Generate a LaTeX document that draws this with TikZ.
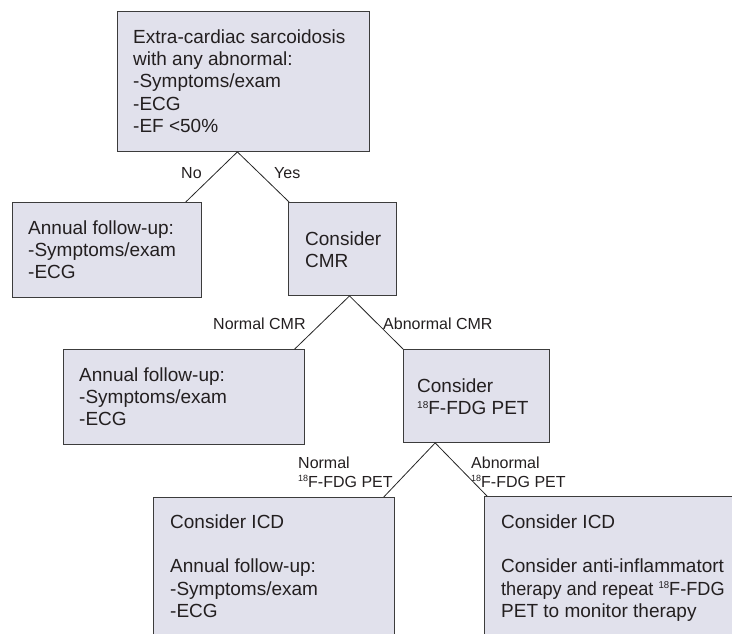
\documentclass[tikz,border=0pt]{standalone}
\usepackage{fontspec}
\usepackage{graphicx}
\setmainfont{Liberation Sans}
\usetikzlibrary{calc}
\definecolor{boxfill}{RGB}{225,225,236}
\definecolor{boxline}{RGB}{60,60,60}
\definecolor{textc}{RGB}{35,31,32}
\newcommand\isot[2]{\raisebox{#2}{\fontsize{#1}{#1}\selectfont 18}}
\newcommand\lns[1]{\begin{tabular}[t]{@{}l@{}}#1\end{tabular}}
\begin{document}
\begin{tikzpicture}[x=1pt,y=-1pt,
  box/.style={draw=boxline,fill=boxfill,line width=0.9pt,inner sep=0pt,anchor=north west},
  txt/.style={anchor=base west,inner sep=0pt,text=textc,font=\fontsize{19}{22.4}\selectfont},
  lbl/.style={anchor=base west,inner sep=0pt,text=textc,font=\fontsize{16}{19}\selectfont},
  conn/.style={draw=black!85,line width=0.8pt}]
\useasboundingbox (0,0) rectangle (732,633);
% boxes
\node[box,minimum width=252pt,minimum height=140pt] (b1) at (117,11) {};
\node[box,minimum width=189pt,minimum height=95pt] (b2) at (12,202) {};
\node[box,minimum width=108pt,minimum height=93pt] (b3) at (288,202) {};
\node[box,minimum width=241pt,minimum height=95pt] (b4) at (63,349) {};
\node[box,minimum width=146pt,minimum height=93pt] (b5) at (403,349) {};
\node[box,minimum width=241pt,minimum height=200pt] (b6) at (153,497) {};
\node[box,minimum width=280pt,minimum height=200pt] (b7) at (484,496) {};
% texts
\node[txt] (t1) at (133,43) {\lns{Extra-cardiac sarcoidosis\\with any abnormal:\\-Symptoms/exam\\-ECG\\-EF {<}50\%}};
\node[txt] (t2) at (28,234) {\lns{Annual follow-up:\\-Symptoms/exam\\-ECG}};
\node[txt] (t3) at (305,245) {\lns{Consider\\CMR}};
\node[txt] (t4) at (79,381) {\lns{Annual follow-up:\\-Symptoms/exam\\-ECG}};
\node[txt] (t5) at (417,392) {\lns{Consider\\\isot{10}{6.3pt}F-FDG PET}};
\node[txt] (t6) at (170,528) {\lns{Consider ICD\\ \\Annual follow-up:\\-Symptoms/exam\\-ECG}};
\node[txt] (t7) at (501,528) {\lns{Consider ICD\\ \\Consider anti-inflammatort\\\scalebox{0.955}[1]{therapy and repeat \isot{10}{6.3pt}F-FDG}\\PET to monitor therapy}};
% connector attachment points
\coordinate (a1) at ($(b1.south west)!0.476!(b1.south east)$);
\coordinate (a3) at ($(b3.south west)!0.565!(b3.south east)$);
\coordinate (a5) at ($(b5.south west)!0.219!(b5.south east)$);
\coordinate (e2) at ($(b2.north west)!0.915!(b2.north east)$);
\coordinate (e3) at ($(b3.north west)!0.01!(b3.north east)$);
\coordinate (e4) at ($(b4.north west)!0.958!(b4.north east)$);
\coordinate (e5) at (b5.north west);
\coordinate (e6) at ($(b6.north west)!0.954!(b6.north east)$);
\coordinate (e7) at ($(b7.north west)+(3,0)$);
\draw[conn] (a1) -- (e2);
\draw[conn] (a1) -- (e3);
\draw[conn] (a3) -- (e4);
\draw[conn] (a3) -- (e5);
\draw[conn] (a5) -- (e6);
\draw[conn] (a5) -- (e7);
% labels
\node[lbl] (l1) at (181,178) {No};
\node[lbl] (l2) at (274,178) {Yes};
\node[lbl] (l3) at (213,329) {Normal CMR};
\node[lbl] (l4) at (383,329) {Abnormal CMR};
\node[lbl] (l5) at (298,468) {\begin{tabular}[t]{@{}l@{}}Normal\\\isot{9}{5.2pt}F-FDG PET\end{tabular}};
\node[lbl] (l6) at (471,468) {\begin{tabular}[t]{@{}l@{}}Abnormal\\\isot{9}{5.2pt}F-FDG PET\end{tabular}};
\end{tikzpicture}
\end{document}
